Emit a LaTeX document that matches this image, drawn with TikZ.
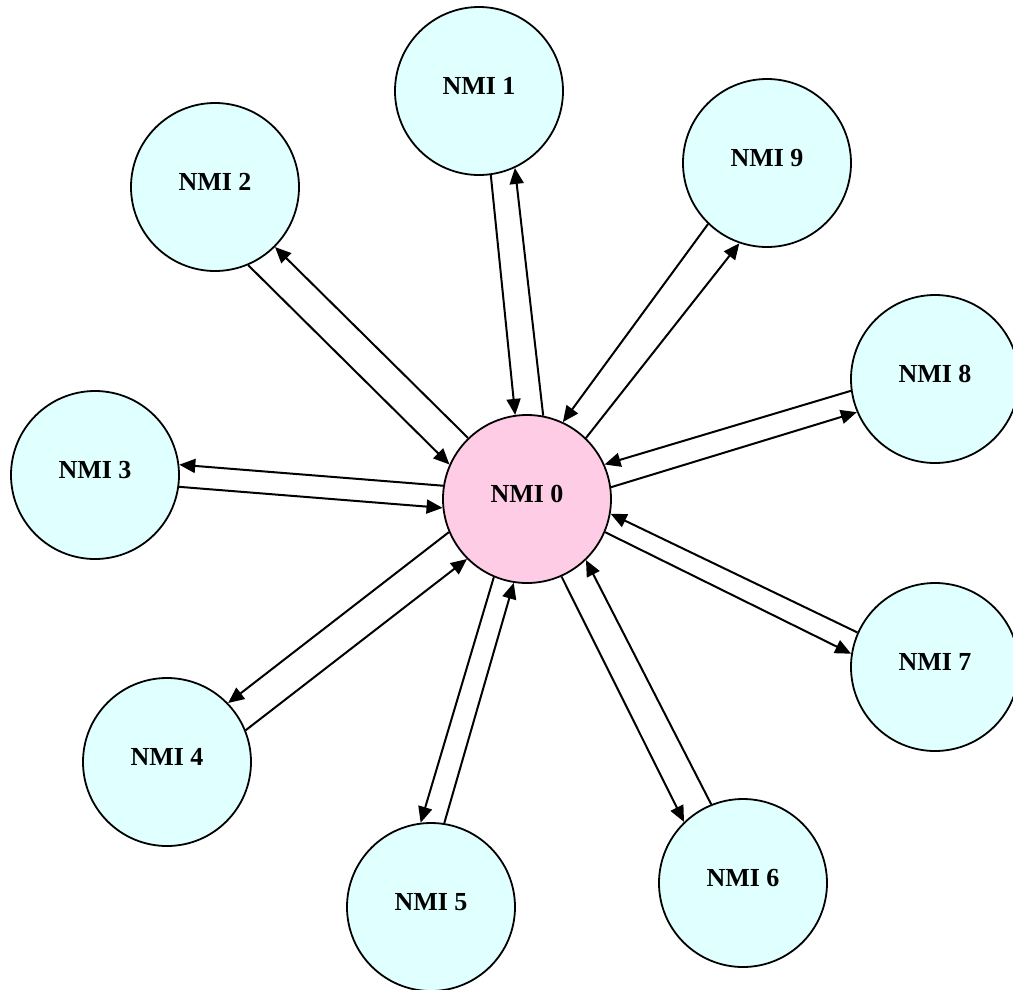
\documentclass[tikz,border=0pt]{standalone}
\usepackage{fontspec}
\setmainfont{Liberation Serif}
\usetikzlibrary{arrows.meta}
\definecolor{nodecyan}{RGB}{224,255,255}
\definecolor{hubpink}{RGB}{255,204,229}
\begin{document}
\begin{tikzpicture}[x=1pt,y=-1pt,
  nmi/.style={circle, draw=black, line width=1.8pt, minimum size=168pt, inner sep=0pt,
    fill=nodecyan, font=\fontsize{26}{30}\selectfont\bfseries, text depth=10pt},
  hub/.style={nmi, fill=hubpink},
  link/.style={line width=2pt, -{Triangle[length=16pt,width=14pt]}}]
\useasboundingbox (0,0) rectangle (1013,989);
\clip (0,0) rectangle (1013,989);
\node[hub] (n0) at (527,499) {NMI 0};
\node[nmi] (n1) at (479,91) {NMI 1};
\node[nmi] (n2) at (215,187) {NMI 2};
\node[nmi] (n3) at (95,475) {NMI 3};
\node[nmi] (n4) at (167,762) {NMI 4};
\node[nmi] (n5) at (431,907) {NMI 5};
\node[nmi] (n6) at (743,883) {NMI 6};
\node[nmi] (n7) at (935,667) {NMI 7};
\node[nmi] (n8) at (935,379) {NMI 8};
\node[nmi] (n9) at (767,163) {NMI 9};
\draw[link] (n1.-82.5) -- (n0.98.1);
\draw[link] (n0.79.6) -- (n1.-65.7);
\draw[link] (n2.-67.4) -- (n0.156.5);
\draw[link] (n0.134.1) -- (n2.-45);
\draw[link] (n0.171.9) -- (n3.7.4);
\draw[link] (n3.-8.2) -- (n0.186);
\draw[link] (n0.203.2) -- (n4.44.5);
\draw[link] (n4.22.6) -- (n0.225.5);
\draw[link] (n0.-113.8) -- (n5.97.4);
\draw[link] (n5.81.9) -- (n0.-99.6);
\draw[link] (n0.-66.8) -- (n6.134.5);
\draw[link] (n6.112.9) -- (n0.-46.4);
\draw[link] (n7.156.6) -- (n0.-10.5);
\draw[link] (n0.-23.2) -- (n7.171.9);
\draw[link] (n8.188.5) -- (n0.24.4);
\draw[link] (n0.8.1) -- (n8.203);
\draw[link] (n9.226.5) -- (n0.65.5);
\draw[link] (n0.46.9) -- (n9.251);
\end{tikzpicture}
\end{document}
